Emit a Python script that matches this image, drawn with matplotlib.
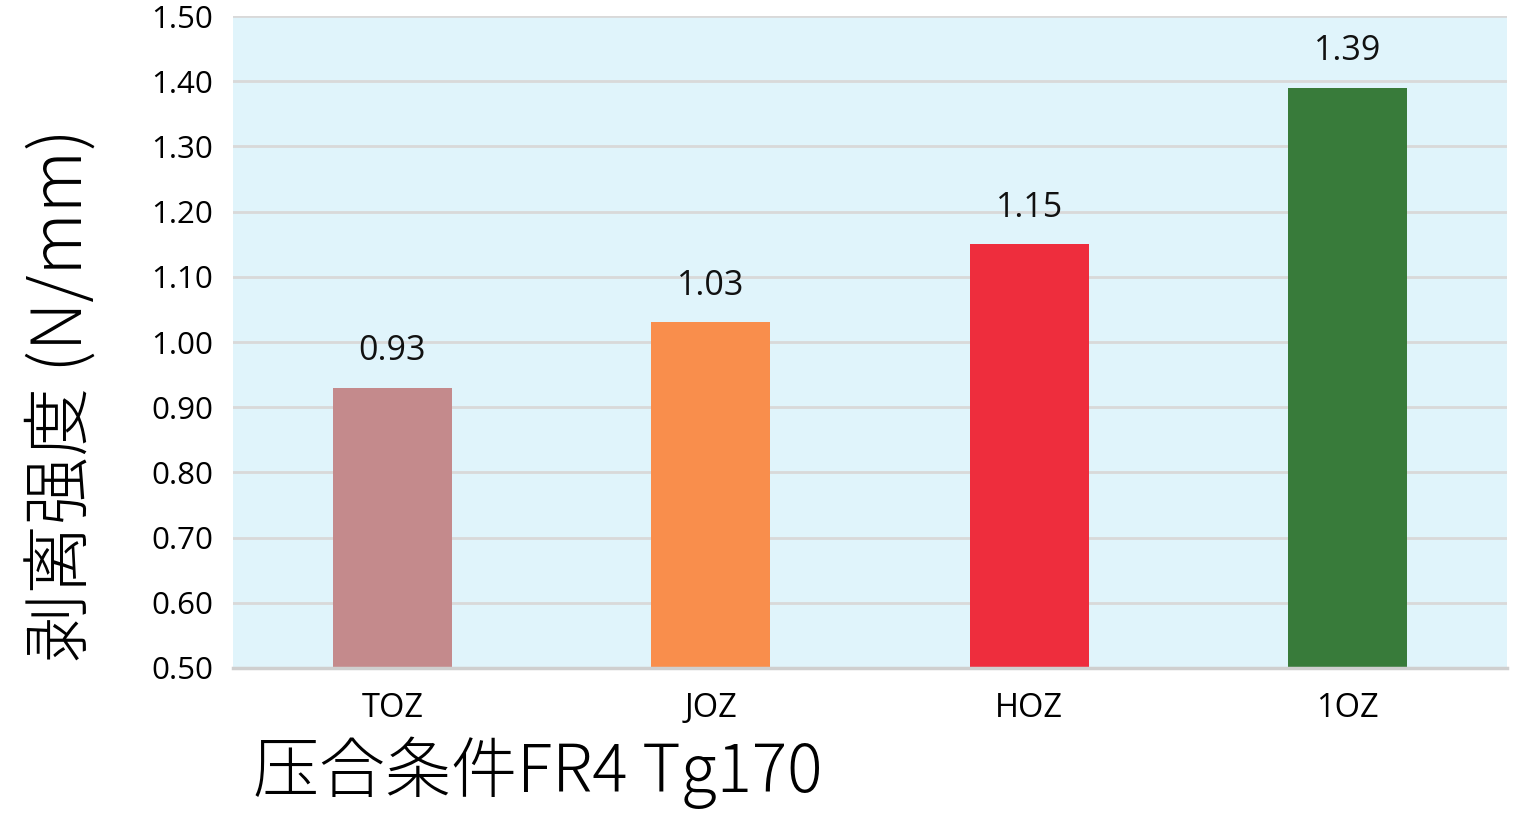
import matplotlib.pyplot as plt

plt.rcParams['font.family'] = ['Open Sans', 'Noto Sans CJK SC', 'DejaVu Sans']

categories = ['TOZ', 'JOZ', 'HOZ', '1OZ']
values = [0.93, 1.03, 1.15, 1.39]
bar_colors = ['#C48A8C', '#F98E4C', '#EE2D3D', '#387B3A']
y_ticks = [0.5, 0.6, 0.7, 0.8, 0.9, 1.0, 1.1, 1.2, 1.3, 1.4, 1.5]

fig = plt.figure(figsize=(15.28, 8.26), dpi=100)
ax = fig.add_axes([0.1525, 0.1913, 0.8338, 0.7893])
ax.set_facecolor('#E0F4FB')

x = range(len(categories))
ax.bar(x, [v - 0.5 for v in values], bottom=0.5, width=0.374, color=bar_colors, zorder=3)
for i, v in zip(x, values):
    ax.text(i, v + 0.03, f'{v:.2f}', ha='center', va='bottom', fontsize=24.5, color='#111111')

ax.set_xlim(-0.5, 3.5)
ax.set_ylim(0.5, 1.5)
ax.set_yticks(y_ticks)
ax.set_yticklabels([f'{t:.2f}' for t in y_ticks])
ax.set_xticks(list(x))
ax.set_xticklabels(categories)
ax.yaxis.grid(True, color='#D9D9D9', linewidth=2, zorder=1)
ax.set_axisbelow(True)
ax.tick_params(axis='y', length=0, pad=14, labelsize=22.5)
ax.tick_params(axis='x', length=0, pad=17, labelsize=23.5)

for s in ['top', 'right', 'left']:
    ax.spines[s].set_visible(False)
ax.spines['bottom'].set_color('#CFCFCF')
ax.spines['bottom'].set_linewidth(2.5)
ax.spines['bottom'].set_zorder(4)

label_font = ['Noto Sans CJK JP', 'Noto Sans CJK SC']
ax.set_ylabel('剥离强度 (N/mm)', fontsize=49.5, family=label_font,
              fontweight=300, va='center')
ax.yaxis.set_label_coords(-0.133, 0.419)
ax.set_xlabel('压合条件FR4 Tg170', fontsize=47.5, family=label_font,
              fontweight=300, ha='left', va='center')
ax.xaxis.set_label_coords(0.0157, -0.16)

fig.savefig('out.png', dpi=100)
